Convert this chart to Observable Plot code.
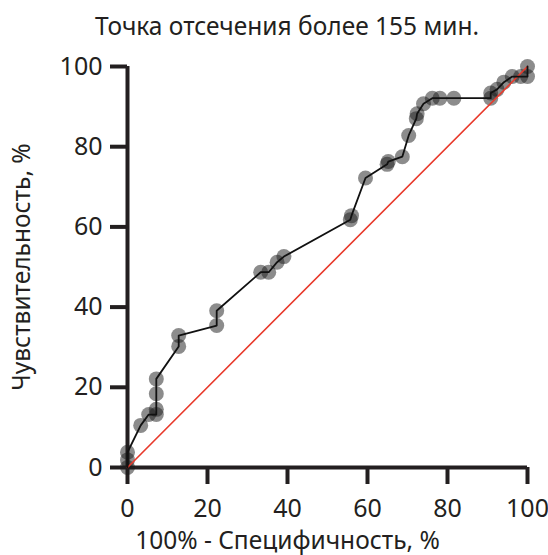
<!DOCTYPE html>
<html>
<head>
<meta charset="utf-8">
<script src="https://cdn.jsdelivr.net/npm/d3@7"></script>
<script src="https://cdn.jsdelivr.net/npm/@observablehq/plot@0.6"></script>
<style>
  html, body { margin: 0; padding: 0; background: #fff; }
  #wrap { width: 548px; font-family: "Noto Sans", sans-serif; color: #231f20; }
  #title { height: 50px; line-height: 52px; text-align: center; font-size: 24.5px; padding-left: 26px; box-sizing: border-box; white-space: nowrap; }
</style>
</head>
<body>
<div id="wrap">
  <div id="title">Точка отсечения более 155 мин.</div>
  <div id="chart"></div>
</div>
<script>
// 100% - specificity (%)
const fpr = [0, 0, 0, 3.3, 5.3, 7.2, 7.2, 7.2, 7.2, 12.8, 12.8, 22.3, 22.3, 33.3, 35.3, 37.4, 39.1, 55.7, 56.0, 59.5, 64.9, 65.2, 68.7, 70.3, 72.2, 72.4, 74.0, 76.2, 78.1, 81.6, 90.8, 90.8, 92.4, 94.1, 96.2, 98.3, 100, 100];
// sensitivity (%)
const tpr = [0, 1.9, 3.8, 10.5, 13.2, 13.2, 14.5, 18.4, 22.1, 30.2, 32.9, 35.4, 39.1, 48.7, 48.7, 51.2, 52.6, 61.8, 62.8, 72.2, 75.6, 76.3, 77.5, 82.8, 87.0, 88.2, 90.7, 92.1, 92.1, 92.1, 92.1, 93.4, 94.3, 96.1, 97.5, 97.5, 97.5, 100];
const ticks = [0, 20, 40, 60, 80, 100];
const refLine = [0, 100];
const xLabel = "100% - Специфичность, %";
const yLabel = "Чувствительность, %";

const pts = fpr.map((x, i) => ({x, y: tpr[i]}));
const diag = refLine.map(v => ({x: v, y: v}));
const axisColor = "#231f20";

const chart = Plot.plot({
  width: 548,
  height: 505,
  marginLeft: 127,
  marginRight: 21,
  marginTop: 16,
  marginBottom: 88,
  style: { fontFamily: "Noto Sans, sans-serif", fontSize: "25px", color: axisColor, background: "#fff", overflow: "visible" },
  x: { domain: [0, 100] },
  y: { domain: [0, 100] },
  marks: [
    Plot.axisX({ ticks, tickSize: 17, tickPadding: 8, strokeWidth: 4, stroke: axisColor, fontSize: 25, label: null }),
    Plot.text(ticks, { x: d => d, frameAnchor: "bottom", lineAnchor: "middle", dy: 41, fontSize: 25, fill: axisColor, text: d => String(d) }),
    Plot.axisY({ ticks, tickSize: 17, tickPadding: 8, strokeWidth: 4, stroke: axisColor, fontSize: 25, label: null }),
    Plot.ruleY([0], { stroke: axisColor, strokeWidth: 4 }),
    Plot.ruleX([0], { stroke: axisColor, strokeWidth: 4 }),
    Plot.dot(pts, { x: "x", y: "y", r: 7.5, fill: "#1a1a1a", fillOpacity: 0.5, stroke: "none" }),
    Plot.line(diag, { x: "x", y: "y", stroke: "#e8392b", strokeWidth: 1.6 }),
    Plot.line(pts, { x: "x", y: "y", stroke: "#111", strokeWidth: 1.8 }),
    Plot.text([xLabel], { frameAnchor: "bottom", dx: -40, dy: 81, fontSize: 24.5, fill: axisColor, textAnchor: "middle" }),
    Plot.text([yLabel], { frameAnchor: "left", dx: -105, rotate: -90, fontSize: 24.5, fill: axisColor, textAnchor: "middle" })
  ]
});
// hide the default x tick labels (replaced by the positioned text mark above)
chart.querySelectorAll('g[aria-label="x-axis tick label"]').forEach(g => g.remove());
document.getElementById("chart").appendChild(chart);
</script>
</body>
</html>
